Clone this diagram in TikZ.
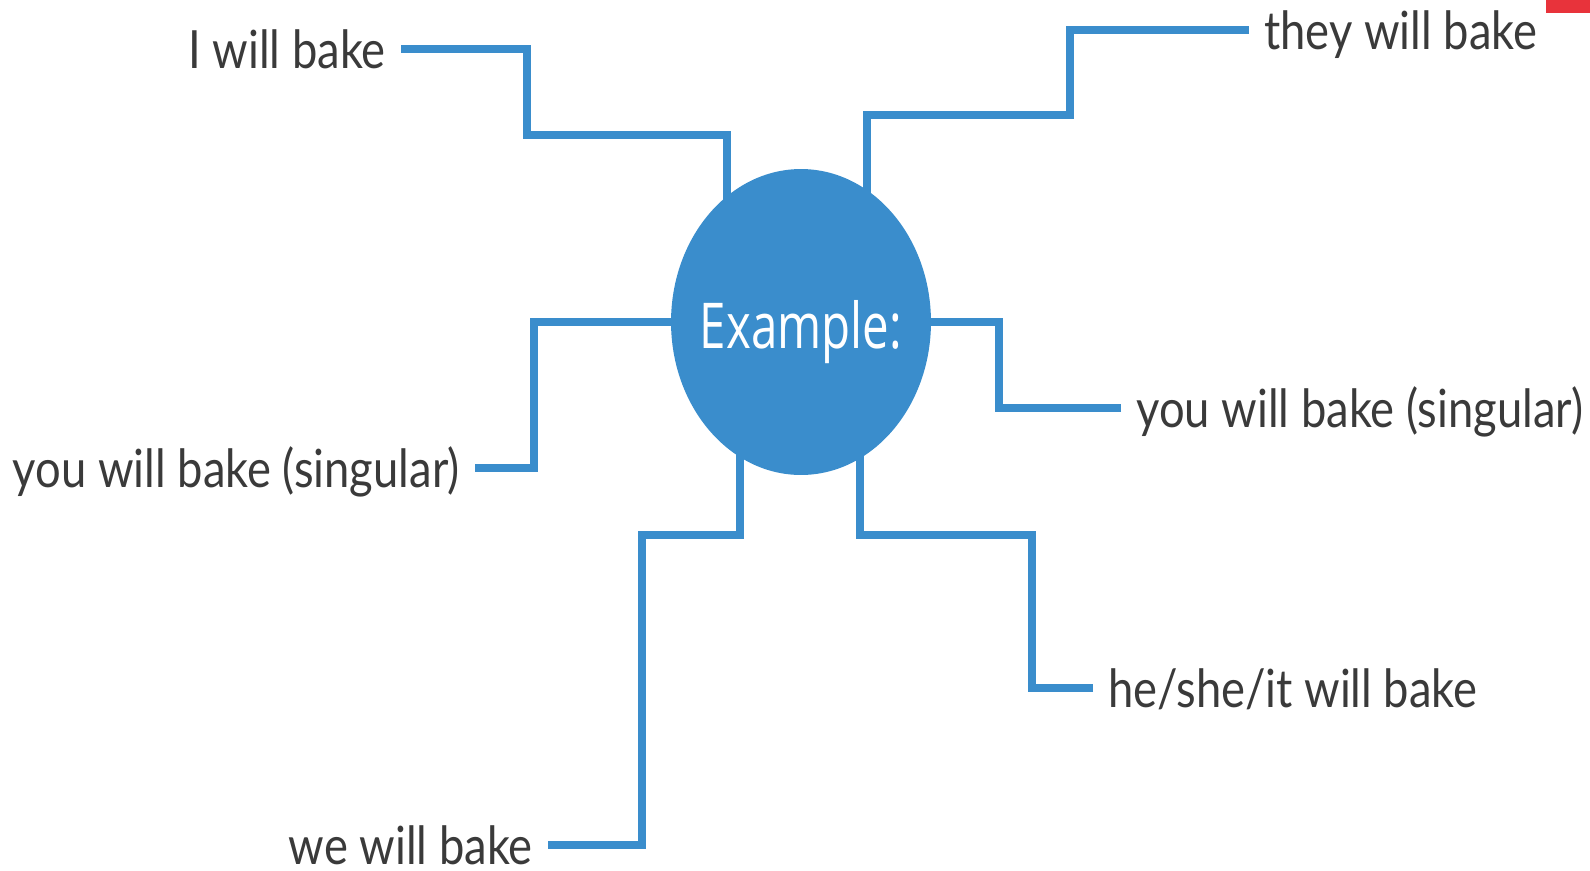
\documentclass[tikz,border=0pt]{standalone}
\usepackage{fontspec}
\setsansfont{Lato}[FakeStretch=0.86]
\newfontfamily\hubfont{Open Sans}[FakeStretch=0.75]
\usepackage{tikz}
\usetikzlibrary{shapes.geometric, backgrounds}
\definecolor{mapblue}{HTML}{3A8DCC}
\definecolor{wordgray}{HTML}{3A3A3A}
\definecolor{markred}{HTML}{E8333B}

\begin{document}
\begin{tikzpicture}[
  x=0.02cm, y=-0.02cm,
  hub/.style={
    ellipse, fill=mapblue, minimum width=5.2cm, minimum height=6.12cm,
    inner sep=0pt, text=white, font=\hubfont\fontsize{36}{40}\selectfont,
    text height=30pt, text depth=0pt
  },
  word/.style={
    font=\sffamily\fontsize{30}{36}\selectfont, text=wordgray,
    text height=22pt, text depth=0pt, inner xsep=0.3cm, inner ysep=0pt
  },
  link/.style={draw=mapblue, line width=0.16cm}
]
\useasboundingbox (0,0) rectangle (1590,870);

% Centre
\node[hub] (ex) at (801,322) {\makebox[0pt]{Example:}};

% Pronoun forms
\node[word, anchor=east] (i)    at (401,49)   {I will bake};
\node[word, anchor=west] (they) at (1249,30)  {they will bake};
\node[word, anchor=east] (youL) at (475,468)  {you will bake (singular)};
\node[word, anchor=west] (youR) at (1121,408) {you will bake (singular)};
\node[word, anchor=west] (he)   at (1093,688) {he/she/it will bake};
\node[word, anchor=east] (we)   at (548,845)  {we will bake};

% Bends of the stepped links
\coordinate (ib)    at (527,135);
\coordinate (theyb) at (1070,115);
\coordinate (youLb) at (534,322);
\coordinate (youRb) at (999,322);
\coordinate (heb)   at (1032,535);
\coordinate (web)   at (642,535);

% Stepped links, kept under the ellipse
\begin{scope}[on background layer]
\draw[link] (i.east) -| (ib) -| ([xshift=-1.48cm]ex.center);
\draw[link] (they.west) -| (theyb) -| ([xshift=1.32cm]ex.center);
\draw[link] (youL.east) -| (youLb) -- (ex.center);
\draw[link] (youR.west) -| (youRb) -- (ex.center);
\draw[link] (he.west) -| (heb) -| ([xshift=1.18cm]ex.center);
\draw[link] (we.east) -| (web) -| ([xshift=-1.22cm]ex.center);
\end{scope}

% Corner mark
\fill[markred] (1546,0) rectangle (1590,13);

\end{tikzpicture}
\end{document}
